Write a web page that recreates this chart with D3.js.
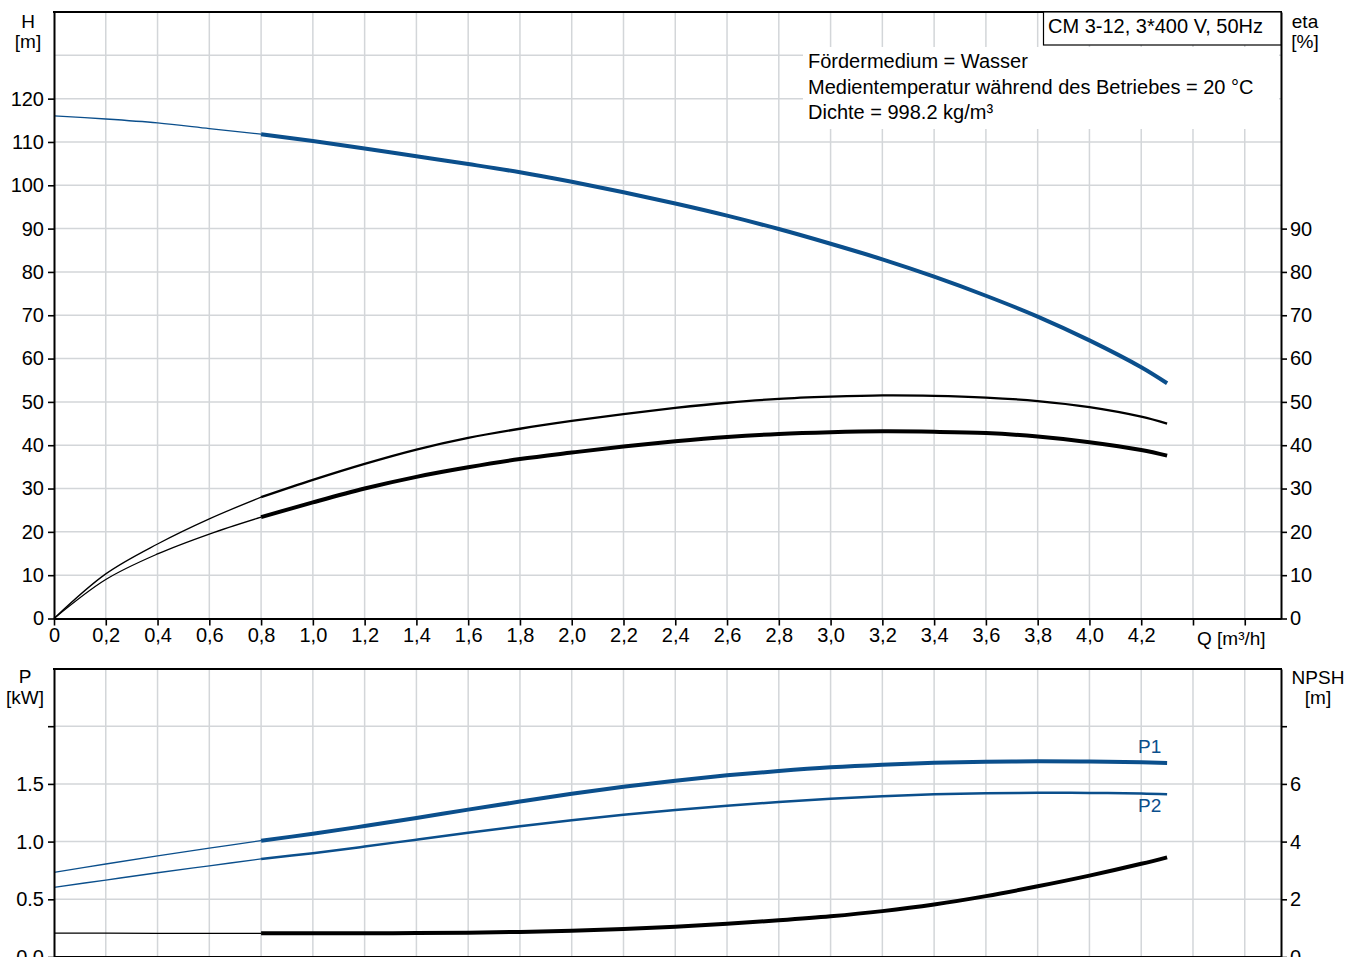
<!DOCTYPE html>
<html>
<head>
    <meta charset="utf-8">
    <title>CM 3-12 Kennlinie</title>
    <script src="https://d3js.org/d3.v7.min.js"></script>
    <style>
        body { margin: 0; background: #fff; }
        text { font-family: "Liberation Sans", Arial, sans-serif; fill: #000; }
    </style>
</head>
<body>
<div id="chart"></div>
<script type="text/javascript">

    // Q-Werte: duenner Abschnitt (0..0,8) und Arbeitsbereich (0,8..4,3)
    let qLow  = [0, 0.2, 0.4, 0.6, 0.8];
    let qHigh = [0.8, 1.0, 1.2, 1.4, 1.6, 1.8, 2.0, 2.2, 2.4, 2.6, 2.8, 3.0, 3.2, 3.4, 3.6, 3.8, 4.0, 4.2, 4.3];

    // Foerderhoehe H [m]
    let hLow  = [116.0, 115.3, 114.4, 113.1, 111.8];
    let hHigh = [111.8, 110.2, 108.5, 106.7, 104.9, 103.0, 100.8, 98.4, 95.8, 93.0, 89.9, 86.5, 82.9, 78.9, 74.5, 69.7, 64.2, 58.0, 54.3];

    // Wirkungsgrad eta [%] (Pumpe / gesamt)
    let etaPumpLow  = [0, 10.3, 17.2, 23.0, 28.0];
    let etaPumpHigh = [28.0, 32.0, 35.7, 39.0, 41.7, 43.8, 45.6, 47.2, 48.6, 49.8, 50.7, 51.2, 51.5, 51.4, 51.0, 50.2, 48.8, 46.6, 45.0];
    let etaTotLow   = [0, 9.0, 14.9, 19.5, 23.4];
    let etaTotHigh  = [23.4, 26.8, 30.0, 32.7, 34.9, 36.8, 38.3, 39.7, 40.9, 41.9, 42.6, 43.0, 43.2, 43.1, 42.8, 42.0, 40.7, 38.9, 37.6];

    // Leistung P1 / P2 [kW]
    let p1Low  = [0.734, 0.806, 0.876, 0.943, 1.008];
    let p1High = [1.008, 1.068, 1.135, 1.205, 1.277, 1.347, 1.414, 1.475, 1.528, 1.574, 1.612, 1.644, 1.667, 1.683, 1.692, 1.696, 1.694, 1.687, 1.681];
    let p2Low  = [0.604, 0.667, 0.730, 0.790, 0.850];
    let p2High = [0.850, 0.900, 0.957, 1.017, 1.076, 1.133, 1.186, 1.233, 1.274, 1.311, 1.343, 1.371, 1.394, 1.410, 1.419, 1.423, 1.422, 1.417, 1.410];

    // NPSH [m]
    let npshLow  = [0.83, 0.83, 0.82, 0.82, 0.82];
    let npshHigh = [0.82, 0.82, 0.82, 0.83, 0.84, 0.87, 0.91, 0.97, 1.05, 1.15, 1.27, 1.41, 1.59, 1.82, 2.11, 2.45, 2.82, 3.23, 3.455];

    // Achsenbeschriftungen
    let xTicks = d3.range(0, 24).map(function(i) { return +(i * 0.2).toFixed(1); });   // 0 .. 4,6
    let hTicks = d3.range(0, 130, 10);     // 0 .. 120
    let hGrid = d3.range(10, 140, 10);     // 10 .. 130
    let etaTicks = d3.range(0, 100, 10);   // 0 .. 90
    let pTicks = [0, 0.5, 1.0, 1.5, 2.0];
    let npshTicks = [0, 2, 4, 6, 8];
    let infoLines = ["Fördermedium = Wasser", "Medientemperatur während des Betriebes = 20 °C", "Dichte = 998.2 kg/m³"];
    let titleText = "CM 3-12, 3*400 V, 50Hz";

    let blue = "#0b4f8c";
    let gridColor = "#d3d6d9";

    let W = 1362, H = 957;
    let left = 54, right = 1281;
    let topA = 12, botA = 618.5;     // oberes Diagramm
    let topB = 669, botB = 957;      // unteres Diagramm

    let svg = d3.select("#chart").append("svg")
        .attr("width", W)
        .attr("height", H);

    let xScale = d3.scaleLinear().domain([0, 4.74]).range([left, right]);
    let hScale = d3.scaleLinear().domain([0, 140]).range([botA, topA]);
    let pScale = d3.scaleLinear().domain([0, (botB - topB) / 115.4]).range([botB, topB]);
    let npshScale = d3.scaleLinear().domain([0, pScale.domain()[1] * 4]).range([botB, topB]);

    function fmtQ(d) {
        if (d === 0) return "0";
        if (d > 4.3) return "";
        return d3.format(".1f")(d).replace(".", ",");
    }

    // ---------- Gitter ----------
    function grid(y0, y1, yVals, yS) {
        let g = svg.append("g").attr("stroke", gridColor).attr("stroke-width", 1.5);
        g.selectAll("line.v")
            .data(xTicks.filter(function(d) { return d > 0; }))
            .enter().append("line")
            .attr("x1", function(d) { return xScale(d); })
            .attr("x2", function(d) { return xScale(d); })
            .attr("y1", y0).attr("y2", y1);
        g.selectAll("line.h")
            .data(yVals)
            .enter().append("line")
            .attr("x1", left).attr("x2", right)
            .attr("y1", function(d) { return yS(d); })
            .attr("y2", function(d) { return yS(d); });
    }
    grid(topA, botA, hGrid, hScale);
    grid(topB, botB, pTicks.filter(function(d) { return d > 0; }), pScale);

    // weisser Hintergrund der Mediumsangaben
    svg.append("rect")
        .attr("x", 803).attr("y", 47)
        .attr("width", 476).attr("height", 82)
        .attr("fill", "#fff");

    // ---------- Kurven ----------
    function curve(qs, vals, yS, color, width) {
        let line = d3.line()
            .x(function(d, i) { return xScale(qs[i]); })
            .y(function(d) { return yS(d); })
            .curve(d3.curveCatmullRom.alpha(0.5));
        svg.append("path")
            .datum(vals)
            .attr("d", line)
            .attr("fill", "none")
            .attr("stroke", color)
            .attr("stroke-width", width)
            .attr("stroke-linejoin", "round");
    }

    curve(qLow, hLow, hScale, blue, 1.3);
    curve(qHigh, hHigh, hScale, blue, 4);
    curve(qLow, etaPumpLow, hScale, "#000", 1.3);
    curve(qHigh, etaPumpHigh, hScale, "#000", 2.3);
    curve(qLow, etaTotLow, hScale, "#000", 1.3);
    curve(qHigh, etaTotHigh, hScale, "#000", 4);

    curve(qLow, p1Low, pScale, blue, 1.3);
    curve(qHigh, p1High, pScale, blue, 4);
    curve(qLow, p2Low, pScale, blue, 1.3);
    curve(qHigh, p2High, pScale, blue, 2.5);
    curve(qLow, npshLow, npshScale, "#000", 1.3);
    curve(qHigh, npshHigh, npshScale, "#000", 4);

    // ---------- Achsen ----------
    function styleAxis(g) {
        g.select(".domain").attr("stroke", "#000").attr("stroke-width", 2);
        g.selectAll(".tick line").attr("stroke", "#000").attr("stroke-width", 1.6);
        g.selectAll(".tick text")
            .attr("font-size", "20px")
            .attr("font-family", "Liberation Sans, Arial, sans-serif")
            .attr("fill", "#000");
    }

    // oberes Diagramm
    svg.append("g")
        .attr("transform", "translate(" + left + ",0)")
        .call(d3.axisLeft(hScale).tickValues(hTicks).tickSize(6).tickPadding(4).tickSizeOuter(0))
        .call(styleAxis);
    svg.append("g")
        .attr("transform", "translate(" + right + ",0)")
        .call(d3.axisRight(hScale).tickValues(etaTicks).tickSize(6).tickPadding(3).tickSizeOuter(0))
        .call(styleAxis);
    svg.append("g")
        .attr("transform", "translate(0," + botA + ")")
        .call(d3.axisBottom(xScale).tickValues(xTicks).tickFormat(fmtQ).tickSize(7).tickPadding(2).tickSizeOuter(0))
        .call(styleAxis);
    svg.append("line")
        .attr("x1", left - 1).attr("x2", right + 1)
        .attr("y1", topA).attr("y2", topA)
        .attr("stroke", "#000").attr("stroke-width", 2);

    // unteres Diagramm
    svg.append("g")
        .attr("transform", "translate(" + left + ",0)")
        .call(d3.axisLeft(pScale).tickValues(pTicks).tickFormat(function(d) { return d === 2 ? "" : d3.format(".1f")(d); })
            .tickSize(6).tickPadding(4).tickSizeOuter(0))
        .call(styleAxis);
    svg.append("g")
        .attr("transform", "translate(" + right + ",0)")
        .call(d3.axisRight(npshScale).tickValues(npshTicks).tickFormat(function(d) { return d === 8 ? "" : d; })
            .tickSize(6).tickPadding(3).tickSizeOuter(0))
        .call(styleAxis);
    svg.append("line")
        .attr("x1", left - 1).attr("x2", right + 1)
        .attr("y1", topB).attr("y2", topB)
        .attr("stroke", "#000").attr("stroke-width", 2);
    svg.append("line")
        .attr("x1", left).attr("x2", right)
        .attr("y1", botB).attr("y2", botB)
        .attr("stroke", "#000").attr("stroke-width", 2);

    // ---------- Titelkasten ----------
    svg.append("rect")
        .attr("x", 1043.5).attr("y", topA)
        .attr("width", right - 1043.5).attr("height", 33)
        .attr("fill", "#fff")
        .attr("stroke", "#000").attr("stroke-width", 1.2);
    svg.append("text")
        .attr("x", 1048).attr("y", 33)
        .attr("font-size", "20px")
        .text(titleText);

    svg.selectAll("text.info")
        .data(infoLines)
        .enter().append("text")
        .attr("class", "info")
        .attr("x", 808)
        .attr("y", function(d, i) { return 68 + i * 25.5; })
        .attr("font-size", "20px")
        .text(function(d) { return d; });

    // ---------- Achsentitel ----------
    function label(x, y, txt, anchor) {
        svg.append("text")
            .attr("x", x).attr("y", y)
            .attr("text-anchor", anchor || "middle")
            .attr("font-size", "19px")
            .text(txt);
    }
    label(28, 28, "H");
    label(28, 48, "[m]");
    label(1305, 28, "eta");
    label(1305, 48, "[%]");
    label(1197, 645, "Q [m³/h]", "start");
    label(25, 683, "P");
    label(25, 704, "[kW]");
    label(1318, 684, "NPSH");
    label(1318, 704, "[m]");

    svg.append("text")
        .attr("x", 1138).attr("y", 753)
        .attr("font-size", "19px")
        .style("fill", blue)
        .text("P1");
    svg.append("text")
        .attr("x", 1138).attr("y", 812)
        .attr("font-size", "19px")
        .style("fill", blue)
        .text("P2");

</script>
</body>
</html>
